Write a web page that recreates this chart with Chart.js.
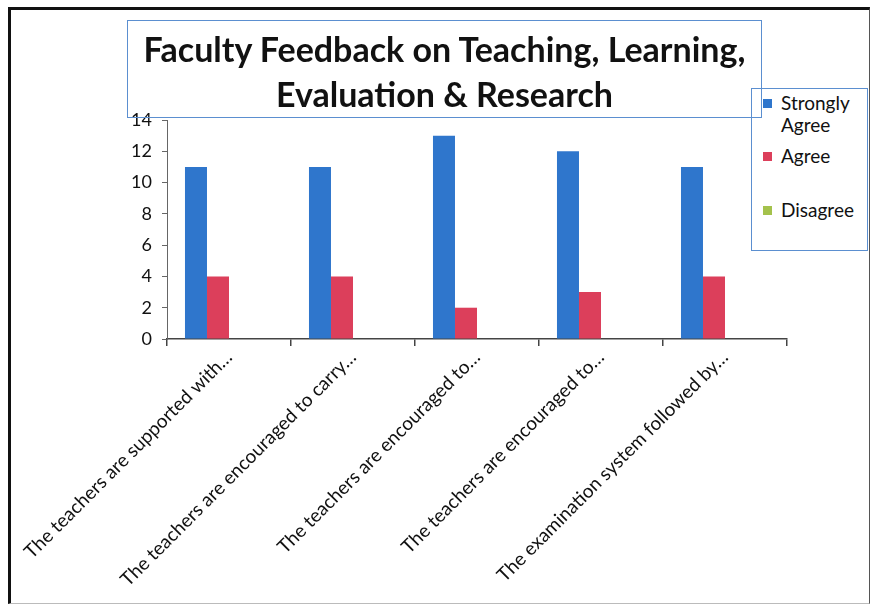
<!DOCTYPE html>
<html>
<head>
<meta charset="utf-8">
<script src="https://cdn.jsdelivr.net/npm/chart.js@4.4.1/dist/chart.umd.min.js"></script>
<style>
    html, body { margin: 0; padding: 0; background: #fff; }
    body { width: 872px; height: 607px; position: relative; overflow: hidden; font-family: Lato, "Open Sans", sans-serif; }
    #frame {
        position: absolute; left: 8px; top: 7px; width: 858px; height: 593px;
        border-top: 3px solid #111; border-left: 3px solid #111;
        border-right: 1px solid #555; border-bottom: 1px solid #bbb;
    }
    #myChart { position: absolute; left: 0; top: 0; }
    #legend {
        position: absolute; left: 751px; top: 88px; width: 117px; height: 163px;
        border: 1px solid #5b8fd0; background: #fff; box-sizing: border-box;
        padding: 3px 0 0 11px; font-size: 19px; color: #111;
    }
    #title {
        position: absolute; left: 127px; top: 20px; width: 635px; height: 98px;
        border: 1px solid #5b8fd0; background: transparent;
        font-weight: bold; font-size: 34px; line-height: 45px; color: #111;
        text-align: center; padding-top: 5px; box-sizing: border-box;
    }
    .lg-row { display: flex; align-items: flex-start; min-height: 22px; margin-bottom: 5px; line-height: 22px; }
    .lg-row:first-child { margin-bottom: 9px; }
    .lg-box { width: 9px; height: 9px; margin: 7px 9px 0 0; flex: none; }
</style>
</head>
<body>
<div id="frame"></div>
<canvas id="myChart" width="872" height="607"></canvas>
<div id="legend"></div>
<div id="title">Faculty Feedback on Teaching, Learning,<br>Evaluation &amp; Research</div>
<script>
var categories = [
    'The teachers are supported with…',
    'The teachers are encouraged to carry…',
    'The teachers are encouraged to…',
    'The teachers are encouraged to…',
    'The examination system followed by…'
];
var stronglyAgree = [11, 11, 13, 12, 11];
var agree = [4, 4, 2, 3, 4];
var blankSeries = [0, 0, 0, 0, 0];
var disagree = [0, 0, 0, 0, 0];
var yTicks = [0, 2, 4, 6, 8, 10, 12, 14];

var seriesNames = ['Strongly Agree', 'Agree', '', 'Disagree'];
var seriesColors = ['#2f76cc', '#dc3f5b', 'rgba(0,0,0,0)', '#a4c24c'];
var seriesData = [stronglyAgree, agree, blankSeries, disagree];

var datasets = seriesData.map(function (d, i) {
    return {
        label: seriesNames[i],
        data: d,
        backgroundColor: seriesColors[i],
        borderWidth: 0,
        barPercentage: 1,
        categoryPercentage: 0.71
    };
});

// html legend, "Strongly Agree" wraps like the original
var legend = document.getElementById('legend');
datasets.forEach(function (ds) {
    var row = document.createElement('div');
    row.className = 'lg-row';
    var box = document.createElement('span');
    box.className = 'lg-box';
    box.style.background = ds.backgroundColor;
    var txt = document.createElement('span');
    txt.textContent = ds.label;
    row.appendChild(box);
    row.appendChild(txt);
    legend.appendChild(row);
});

var ctx = document.getElementById('myChart').getContext('2d');
var myChart = new Chart(ctx, {
    type: 'bar',
    data: {
        labels: categories,
        datasets: datasets
    },
    options: {
        responsive: false,
        animation: false,
        layout: { padding: { left: 0, right: 85, top: 120, bottom: 0 } },
        plugins: {
            legend: { display: false },
            title: { display: false },
            tooltip: { enabled: false }
        },
        scales: {
            x: {
                offset: true,
                border: { color: '#444', width: 1.5 },
                grid: { offset: true, drawOnChartArea: false, color: '#444', tickLength: 7, lineWidth: 1.5 },
                ticks: {
                    autoSkip: false,
                    minRotation: 45,
                    maxRotation: 45,
                    color: '#111',
                    padding: 0,
                    font: { family: 'Lato, "Open Sans", sans-serif', size: 19 }
                },
                afterFit: function (scale) { scale.height = 268; }
            },
            y: {
                min: 0,
                max: 14,
                border: { color: '#666', width: 1 },
                grid: { drawOnChartArea: false, color: '#666', tickLength: 5 },
                afterBuildTicks: function (scale) {
                    scale.ticks = yTicks.map(function (v) { return { value: v }; });
                },
                ticks: {
                    color: '#111',
                    padding: 10,
                    font: { family: 'Lato, "Open Sans", sans-serif', size: 18 }
                },
                afterFit: function (scale) { scale.width = 167; }
            }
        }
    }
});
</script>
</body>
</html>
